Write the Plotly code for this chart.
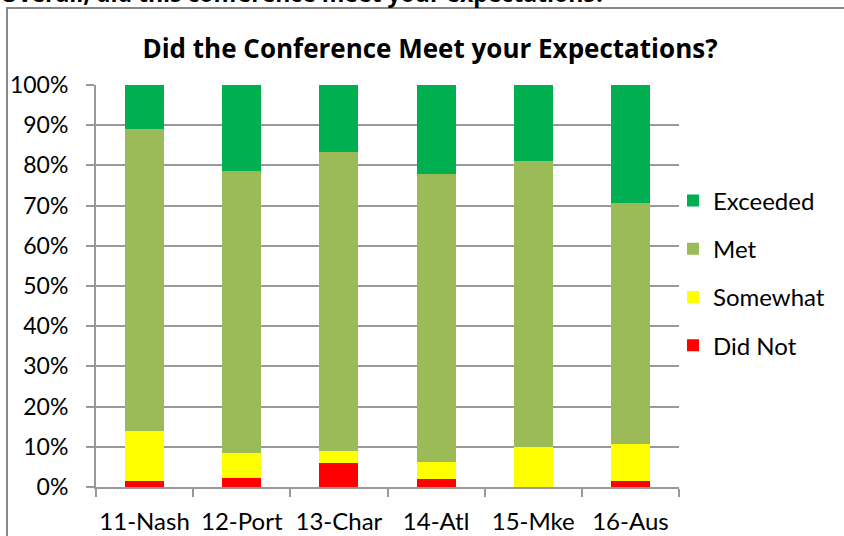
import plotly.graph_objects as go

categories = ["11-Nash", "12-Port", "13-Char", "14-Atl", "15-Mke", "16-Aus"]
did_not = [1.5, 2.2, 6.0, 2.0, 0.0, 1.5]
somewhat = [12.4, 6.2, 3.0, 4.2, 10.0, 9.3]
met = [75.2, 70.2, 74.3, 71.6, 71.1, 59.9]
exceeded = [10.9, 21.4, 16.7, 22.2, 18.9, 29.3]
y_ticks = [0, 10, 20, 30, 40, 50, 60, 70, 80, 90, 100]
y_tick_labels = [f"{v}%" for v in y_ticks]

series = [
    ("Did Not", did_not, "#FF0000", 4),
    ("Somewhat", somewhat, "#FFFF00", 3),
    ("Met", met, "#9BBB59", 2),
    ("Exceeded", exceeded, "#00B050", 1),
]

FONT = "Lato, Carlito, Calibri, sans-serif"
BFONT = "'Open Sans', Lato, sans-serif"

fig = go.Figure()
for name, vals, color, rank in series:
    fig.add_trace(go.Bar(
        x=categories, y=vals, name=name, legendgroup=name, legendrank=rank,
        marker=dict(color=color, line=dict(width=0)),
        width=0.4,
    ))

W, H = 844, 536
L, R, T, B = 96, 844 - 679, 85, 536 - 487
pw, ph = W - L - R, H - T - B

def px_x(px):
    return (px - L) / pw

def px_y(py):
    return (H - B - py) / ph

fig.update_layout(
    width=W, height=H,
    margin=dict(l=L, r=R, t=T, b=B, autoexpand=False),
    barmode="stack",
    paper_bgcolor="white", plot_bgcolor="white",
    font=dict(family=FONT, size=24, color="black"),
    title=dict(
        text="<b>Did the Conference Meet your Expectations?</b>",
        x=430 / W, xanchor="center", y=1 - 49 / H, yanchor="middle",
        font=dict(family=BFONT, size=26, color="black"),
    ),
    xaxis=dict(
        type="category", showgrid=False, ticks="outside", tickson="boundaries",
        ticklen=8, tickwidth=2, tickcolor="#999999",
        showline=True, linecolor="#999999", linewidth=2,
        ticklabelstandoff=12, tickangle=0,
        tickfont=dict(family=FONT, size=24, color="black"),
        fixedrange=True,
    ),
    yaxis=dict(
        range=[0, 100], tickvals=y_ticks, ticktext=y_tick_labels,
        showgrid=True, gridcolor="#999999", gridwidth=2,
        ticks="outside", ticklen=8, tickwidth=2, tickcolor="#999999",
        showline=True, linecolor="#999999", linewidth=2,
        zeroline=False, ticklabelstandoff=13,
        tickfont=dict(family=FONT, size=23, color="black"),
        fixedrange=True,
    ),
    legend=dict(
        x=px_x(673), xanchor="left", y=px_y(273), yanchor="middle",
        traceorder="grouped", tracegroupgap=14,
        font=dict(family=FONT, size=24, color="black"),
        bgcolor="rgba(0,0,0,0)",
    ),
    showlegend=True,
    shapes=[
        dict(type="rect", xref="paper", yref="paper",
             x0=px_x(7), x1=px_x(900), y0=px_y(600), y1=px_y(8),
             line=dict(color="#888888", width=2), fillcolor="rgba(0,0,0,0)",
             layer="below"),
    ],
    annotations=[
        dict(text="<b>Overall, did this conference meet your expectations?</b>",
             xref="paper", yref="paper", x=px_x(-2), y=px_y(-7),
             xanchor="left", yanchor="middle", showarrow=False,
             font=dict(family=BFONT, size=23, color="black")),
    ],
)

fig.write_html("out.html", config={"displayModeBar": False},
               post_script="document.body.style.margin='0';")
